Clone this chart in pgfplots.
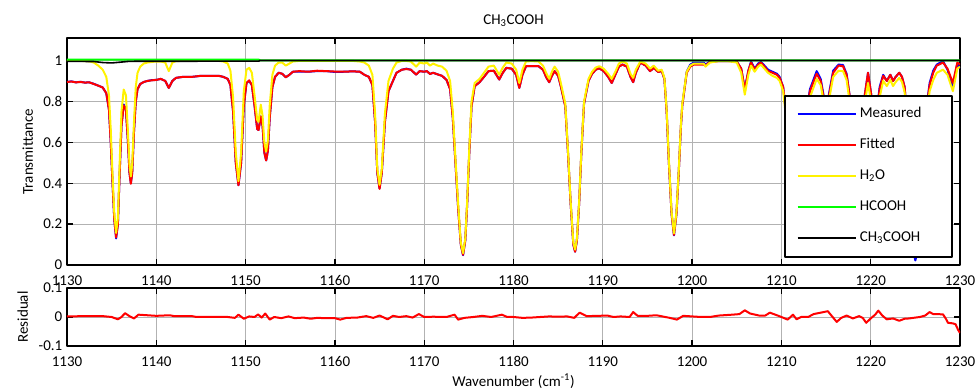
\documentclass[border=0pt]{standalone}
\usepackage{fontspec}
\setmainfont{Carlito}
\usepackage{pgfplots}
\pgfplotsset{compat=1.18}
\usepackage{pgfplotstable}

\pgfplotstableread{
x f m w
1130.0 0.895 0.895 0.998
1130.5 0.897 0.898 0.998
1131.0 0.893 0.893 0.998
1131.5 0.895 0.896 0.998
1132.0 0.892 0.892 0.997
1132.5 0.893 0.893 0.996
1133.0 0.885 0.886 0.99
1133.5 0.877 0.877 0.975
1134.0 0.868 0.868 0.955
1134.4 0.84 0.84 0.92
1134.7 0.76 0.76 0.83
1134.9 0.60 0.60 0.66
1135.1 0.40 0.40 0.44
1135.3 0.22 0.22 0.25
1135.5 0.135 0.13 0.157
1135.7 0.20 0.20 0.23
1135.9 0.45 0.45 0.50
1136.1 0.68 0.68 0.75
1136.35 0.78 0.785 0.858
1136.6 0.76 0.76 0.83
1136.8 0.62 0.62 0.67
1137.0 0.45 0.45 0.49
1137.15 0.397 0.40 0.433
1137.3 0.45 0.45 0.49
1137.5 0.65 0.65 0.70
1137.7 0.80 0.80 0.87
1137.9 0.86 0.86 0.94
1138.2 0.885 0.885 0.97
1138.6 0.895 0.895 0.985
1139.0 0.90 0.90 0.99
1139.5 0.903 0.904 0.993
1140.0 0.905 0.905 0.995
1140.5 0.91 0.91 0.995
1141.0 0.90 0.90 0.99
1141.4 0.866 0.866 0.948
1141.8 0.90 0.90 0.99
1142.2 0.915 0.915 0.997
1143.0 0.92 0.92 0.998
1144.0 0.92 0.92 0.998
1145.0 0.925 0.925 0.998
1146.0 0.925 0.925 0.998
1147.0 0.925 0.925 0.998
1147.5 0.92 0.92 0.995
1148.0 0.91 0.91 0.985
1148.3 0.88 0.88 0.95
1148.6 0.75 0.75 0.82
1148.9 0.50 0.50 0.55
1149.2 0.39 0.39 0.41
1149.5 0.50 0.50 0.55
1149.8 0.78 0.78 0.85
1150.1 0.89 0.89 0.955
1150.4 0.903 0.90 0.964
1150.7 0.88 0.88 0.94
1151.0 0.78 0.78 0.83
1151.3 0.665 0.665 0.71
1151.45 0.66 0.66 0.70
1151.7 0.727 0.727 0.784
1151.9 0.68 0.68 0.73
1152.1 0.55 0.55 0.60
1152.3 0.511 0.511 0.555
1152.5 0.56 0.56 0.61
1152.7 0.72 0.72 0.78
1153.0 0.87 0.87 0.93
1153.3 0.92 0.92 0.975
1153.7 0.94 0.94 0.99
1154.1 0.935 0.935 0.99
1154.5 0.918 0.918 0.975
1154.9 0.93 0.93 0.985
1155.3 0.945 0.945 0.995
1156.0 0.948 0.946 0.998
1157.0 0.945 0.945 0.998
1158.0 0.950 0.948 0.998
1159.0 0.948 0.948 0.998
1160.0 0.946 0.944 0.998
1161.0 0.945 0.945 0.998
1162.0 0.947 0.947 0.998
1162.8 0.945 0.945 0.995
1163.3 0.93 0.93 0.99
1163.8 0.92 0.92 0.975
1164.2 0.88 0.88 0.93
1164.5 0.70 0.70 0.74
1164.75 0.45 0.45 0.47
1165.0 0.372 0.375 0.392
1165.25 0.45 0.45 0.47
1165.6 0.70 0.70 0.74
1166.0 0.85 0.85 0.90
1166.5 0.90 0.90 0.96
1166.9 0.94 0.94 0.99
1167.5 0.955 0.955 0.998
1168.0 0.958 0.96 0.998
1168.5 0.955 0.955 0.995
1169.1 0.931 0.931 0.97
1169.5 0.948 0.948 0.99
1170.0 0.945 0.945 0.985
1170.3 0.948 0.948 0.99
1170.65 0.934 0.934 0.975
1171.0 0.94 0.94 0.985
1171.5 0.932 0.932 0.975
1172.0 0.925 0.925 0.97
1172.5 0.905 0.905 0.95
1172.9 0.86 0.86 0.90
1173.2 0.72 0.72 0.75
1173.5 0.50 0.50 0.52
1173.8 0.28 0.28 0.30
1174.1 0.10 0.10 0.11
1174.35 0.05 0.048 0.058
1174.6 0.12 0.12 0.13
1174.8 0.286 0.286 0.30
1175.05 0.55 0.55 0.57
1175.3 0.776 0.776 0.80
1175.65 0.874 0.874 0.89
1176.2 0.894 0.894 0.91
1176.7 0.92 0.92 0.94
1177.2 0.948 0.948 0.97
1177.8 0.95 0.95 0.975
1178.4 0.907 0.907 0.93
1178.8 0.94 0.94 0.965
1179.2 0.964 0.964 0.99
1179.8 0.96 0.96 0.985
1180.3 0.93 0.93 0.955
1180.65 0.866 0.866 0.89
1181.0 0.93 0.93 0.955
1181.4 0.972 0.972 0.995
1182.0 0.973 0.973 0.997
1182.8 0.972 0.972 0.995
1183.3 0.955 0.955 0.975
1183.7 0.915 0.915 0.935
1184.0 0.894 0.894 0.91
1184.3 0.925 0.925 0.945
1184.6 0.948 0.948 0.97
1185.0 0.925 0.925 0.945
1185.3 0.874 0.874 0.89
1185.8 0.776 0.776 0.79
1186.1 0.55 0.55 0.56
1186.4 0.30 0.30 0.31
1186.7 0.10 0.10 0.11
1186.9 0.065 0.065 0.075
1187.1 0.12 0.12 0.13
1187.35 0.30 0.30 0.31
1187.6 0.55 0.55 0.56
1187.9 0.79 0.79 0.80
1188.4 0.90 0.90 0.91
1188.8 0.935 0.935 0.945
1189.2 0.955 0.955 0.965
1189.6 0.962 0.962 0.972
1190.1 0.948 0.948 0.96
1190.6 0.92 0.92 0.935
1191.0 0.89 0.89 0.91
1191.4 0.93 0.93 0.945
1191.8 0.97 0.97 0.985
1192.2 0.98 0.98 0.995
1192.7 0.97 0.97 0.985
1193.1 0.92 0.92 0.935
1193.4 0.894 0.894 0.915
1193.7 0.94 0.94 0.955
1194.2 0.99 0.99 0.995
1194.8 0.975 0.975 0.985
1195.3 0.948 0.948 0.96
1195.7 0.964 0.964 0.975
1196.2 0.944 0.944 0.95
1196.6 0.948 0.948 0.955
1196.9 0.91 0.91 0.915
1197.15 0.75 0.75 0.76
1197.4 0.50 0.50 0.51
1197.7 0.25 0.25 0.26
1197.97 0.147 0.145 0.155
1198.25 0.25 0.25 0.26
1198.5 0.45 0.45 0.46
1198.75 0.68 0.68 0.69
1198.9 0.78 0.78 0.79
1199.4 0.94 0.945 0.945
1199.8 0.97 0.98 0.975
1200.2 0.98 0.99 0.985
1200.8 0.98 0.99 0.985
1201.3 0.98 0.99 0.985
1201.5 0.975 0.98 0.97
1202.0 0.993 0.995 0.99
1203.0 0.997 0.997 0.997
1204.0 0.997 0.997 0.997
1205.0 0.995 0.995 0.99
1205.5 0.96 0.96 0.94
1205.9 0.858 0.86 0.833
1206.3 0.95 0.95 0.93
1206.6 0.99 0.995 0.975
1207.0 0.956 0.96 0.945
1207.4 0.98 0.985 0.97
1207.7 0.99 0.993 0.98
1208.1 0.97 0.975 0.96
1208.5 0.948 0.955 0.94
1209.0 0.94 0.945 0.925
1209.5 0.93 0.935 0.915
1209.8 0.915 0.92 0.90
1210.2 0.87 0.87 0.85
1210.5 0.75 0.75 0.73
1211.0 0.45 0.45 0.43
1211.5 0.35 0.35 0.33
1212.0 0.45 0.45 0.43
1212.6 0.70 0.70 0.67
1213.2 0.85 0.86 0.82
1213.95 0.935 0.948 0.91
1214.4 0.90 0.91 0.88
1214.8 0.80 0.81 0.78
1215.0 0.72 0.73 0.70
1215.3 0.82 0.83 0.80
1215.8 0.94 0.95 0.92
1216.4 0.975 0.98 0.95
1216.9 0.972 0.978 0.948
1217.3 0.93 0.935 0.905
1217.6 0.84 0.84 0.81
1218.0 0.70 0.70 0.67
1218.5 0.55 0.55 0.52
1219.0 0.68 0.68 0.64
1219.3 0.82 0.82 0.78
1219.7 0.94 0.94 0.89
1220.1 0.82 0.82 0.78
1220.4 0.70 0.70 0.66
1220.7 0.74 0.76 0.70
1221.0 0.86 0.87 0.82
1221.4 0.925 0.93 0.90
1221.8 0.90 0.90 0.875
1222.2 0.93 0.93 0.905
1222.5 0.90 0.90 0.875
1222.8 0.92 0.92 0.895
1223.2 0.94 0.94 0.915
1223.5 0.92 0.92 0.895
1223.8 0.87 0.87 0.845
1224.1 0.70 0.70 0.68
1224.5 0.30 0.30 0.31
1224.8 0.08 0.06 0.09
1225.0 0.045 0.022 0.055
1225.3 0.10 0.08 0.11
1225.7 0.40 0.40 0.40
1226.1 0.72 0.72 0.68
1226.6 0.88 0.89 0.85
1227.0 0.94 0.95 0.905
1227.4 0.975 0.98 0.94
1228.1 0.99 0.997 0.955
1228.6 0.96 0.955 0.93
1229.2 0.89 0.87 0.85
1229.7 0.99 0.985 0.96
1230.0 0.98 0.96 0.97
}\spec

\pgfplotstableread{
x r
1130 0.002
1132 0.003
1134 0.003
1135 0.0
1135.7 -0.008
1136.1 0.0
1136.5 0.013
1137 0.003
1137.5 -0.005
1138 0.008
1139 0.006
1140 0.004
1141.5 0.006
1142 0.003
1144 0.003
1144.5 0.0
1146 0.0
1148 0.0
1148.8 -0.003
1149.2 0.008
1149.8 -0.006
1150.4 0.002
1151.0 0.0
1151.4 0.009
1151.8 -0.002
1152.2 0.012
1152.7 -0.009
1153.2 0.0
1154 -0.004
1154.8 0.002
1155.5 -0.004
1156.5 -0.002
1157.3 -0.006
1158 -0.003
1159 -0.004
1160 -0.004
1160.6 -0.009
1161.3 -0.003
1162.5 -0.002
1163.5 0.003
1164.3 -0.003
1165 0.005
1165.5 -0.002
1165.9 -0.008
1166.5 0.004
1167.2 0.0
1168 0.003
1168.7 -0.002
1169.4 0.01
1170 0.0
1171 0.001
1172.5 0.0
1173.4 0.008
1173.8 -0.009
1174.5 -0.003
1175.5 0.0
1176.5 0.004
1177.5 0.0
1178.7 0.008
1179.3 0.0
1180 0.0
1181 -0.003
1182 -0.002
1183 0.0
1184 0.002
1185 0.001
1186 0.002
1186.8 -0.003
1187.4 0.015
1188.2 0.003
1189.5 0.004
1190.5 0.005
1191.2 0.0
1192 0.002
1193 0.0
1193.4 0.017
1193.9 0.004
1195 0.004
1196 0.006
1197 0.0
1197.5 -0.003
1198.3 -0.009
1199 0.004
1200 0.002
1201 0.0
1202 0.0
1203 0.005
1204.5 0.008
1205.3 0.01
1205.9 0.023
1206.5 0.012
1207.5 0.005
1208.2 0.005
1208.7 0.015
1209.5 0.006
1210 0.0
1210.7 -0.009
1211.3 0.008
1211.7 -0.008
1212.2 0.0
1213 0.0
1213.6 0.01
1215.2 0.02
1215.6 0.005
1216.2 -0.017
1216.7 -0.003
1217.3 0.005
1218 -0.005
1218.7 0.003
1219.1 -0.003
1219.5 -0.02
1220 -0.005
1220.5 0.008
1220.85 0.022
1221.3 0.005
1221.8 -0.008
1222.5 -0.005
1223.2 -0.013
1223.8 -0.006
1224.3 -0.005
1225 -0.002
1225.5 0.0
1226.1 0.005
1226.6 0.017
1227.0 0.01
1227.4 0.01
1228.1 0.009
1228.4 -0.005
1228.65 -0.02
1229.2 -0.022
1229.5 -0.025
1229.8 -0.045
1230 -0.055
}\resid

\pgfplotsset{
  mybase/.style={
    scale only axis, width=669.75pt,
    xmin=1130, xmax=1230,
    xtick={1130,1140,1150,1160,1170,1180,1190,1200,1210,1220,1230},
    xticklabels={1130,1140,1150,1160,1170,1180,1190,1200,1210,1220,1230},
    tick align=inside, tick pos=both,
    xticklabel pos=lower, yticklabel pos=left,
    grid=major, major grid style={gray!60, line width=0.6pt},
    axis line style={black, line width=1.4pt},
    major tick length=4.5pt,
    every tick/.style={black, line width=1pt},
    xticklabel style={anchor=base, yshift=-15.5pt, inner ysep=0.5pt},
    yticklabel style={inner ysep=0.5pt},
    line join=round,
  }
}

\begin{document}
\begin{tikzpicture}[font=\fontsize{11.25}{13.5}\selectfont]
\path[use as bounding box] (-50.25pt,-95.25pt) rectangle (684pt,198.75pt);
\begin{axis}[mybase, name=main, at={(0,0)}, anchor=south west,
  height=170.25pt,
  ymin=0, ymax=1.11,
  ytick={0,0.2,0.4,0.6,0.8,1},
  yticklabels={0,0.2,0.4,0.6,0.8,1},
  title={CH\textsubscript{3}COOH},
  title style={at={(0.5,1)}, anchor=base, yshift=4pt},
  ylabel={Transmittance},
  ylabel style={at={(axis description cs:-0.0381,0.5)}, anchor=base},
  legend cell align=left,
  legend image code/.code={\draw[#1] (0pt,0pt) -- (44pt,0pt);},
  legend style={at={(rel axis cs:0.992,0.031)}, anchor=south east,
    draw=black, line width=1.5pt, fill=white,
    inner xsep=9pt, inner ysep=6pt, row sep=7.25pt,
    nodes={inner sep=2pt, text height=8.5pt, text depth=3.5pt}},
]
\addplot[blue, line width=1.5pt] table[x=x,y=m]{\spec};
\addlegendentry{\makebox[58pt][l]{Measured}}
\addplot[red, line width=1.5pt] table[x=x,y=f]{\spec};
\addlegendentry{\makebox[58pt][l]{Fitted}}
\addplot[yellow, line width=1.5pt] table[x=x,y=w]{\spec};
\addlegendentry{\makebox[58pt][l]{H\textsubscript{2}O}}
\addplot[green, line width=1.5pt] coordinates {(1130,1.004) (1151.5,1.004) (1151.6,1.0) (1230,1.0)};
\addlegendentry{\makebox[58pt][l]{HCOOH}}
\addplot[black, line width=1.2pt] coordinates {(1130,0.996) (1133,0.995) (1134,0.99) (1135,0.988) (1136,0.992) (1137,0.996) (1151.5,0.997) (1151.6,1.0) (1230,1.0)};
\addlegendentry{\makebox[58pt][l]{CH\textsubscript{3}COOH}}
\end{axis}
\begin{axis}[mybase, at={(0,-17.25pt)}, anchor=north west,
  height=43.5pt,
  ymin=-0.1, ymax=0.1,
  ytick={-0.1,0,0.1},
  yticklabels={-0.1,0,0.1},
  ylabel={Residual},
  ylabel style={at={(axis description cs:-0.0437,0.5)}, anchor=base},
  xlabel={Wavenumber (cm\textsuperscript{-1})},
  xlabel style={at={(axis description cs:0.5,-0.69)}, anchor=base},
]
\addplot[red, line width=1.5pt] table[x=x,y=r]{\resid};
\end{axis}
\end{tikzpicture}
\end{document}
